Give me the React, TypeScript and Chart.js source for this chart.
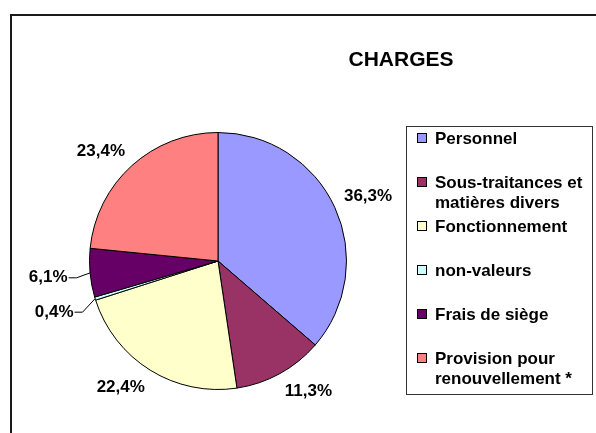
import React, { useEffect, useRef } from "react";
import { Chart, registerables } from "chart.js";

Chart.register(...registerables);

const W = 596;
const H = 433;
const FONT = '"Liberation Sans", Arial, Helvetica, sans-serif';

const TITLE = "CHARGES";
const categories = [
  "Personnel",
  "Sous-traitances et matières divers",
  "Fonctionnement",
  "non-valeurs",
  "Frais de siège",
  "Provision pour renouvellement *",
];
const legendLines = [
  ["Personnel"],
  ["Sous-traitances et", "matières divers"],
  ["Fonctionnement"],
  ["non-valeurs"],
  ["Frais de siège"],
  ["Provision pour", "renouvellement *"],
];
const shares = [36.3, 11.3, 22.4, 0.4, 6.1, 23.4];
const colors = ["#9999FF", "#993366", "#FFFFCC", "#CCFFFF", "#660066", "#FF8080"];

const fmt = (v: number) => v.toFixed(1).replace(".", ",") + "%";

const decor = {
  id: "decor",
  beforeDraw(chart: any) {
    const ctx = chart.ctx as CanvasRenderingContext2D;
    ctx.save();
    ctx.fillStyle = "#ffffff";
    ctx.fillRect(0, 0, W, H);
    // outer frame (extends beyond the window on right and bottom)
    ctx.strokeStyle = "#1a1a1a";
    ctx.lineWidth = 2;
    ctx.beginPath();
    ctx.moveTo(11, H + 10);
    ctx.lineTo(11, 15);
    ctx.lineTo(W + 10, 15);
    ctx.stroke();
    // title
    ctx.fillStyle = "#000";
    ctx.font = `bold 21px ${FONT}`;
    ctx.textAlign = "center";
    ctx.textBaseline = "middle";
    ctx.fillText(TITLE, 401, 60);
    // legend box
    ctx.lineWidth = 1;
    ctx.strokeStyle = "#333";
    ctx.strokeRect(406.5, 126.5, 186, 268);
    ctx.font = `bold 17px ${FONT}`;
    ctx.textAlign = "left";
    legendLines.forEach((lines, i) => {
      const y0 = 138 + 44 * i;
      ctx.fillStyle = colors[i];
      ctx.fillRect(417, y0 - 5, 10, 10);
      ctx.strokeStyle = "#000";
      ctx.strokeRect(417.5, y0 - 4.5, 9, 9);
      ctx.fillStyle = "#000";
      lines.forEach((t, j) => ctx.fillText(t, 435, y0 + 1 + j * 20));
    });
    ctx.restore();
  },
  afterDatasetsDraw(chart: any) {
    const ctx = chart.ctx as CanvasRenderingContext2D;
    const meta = chart.getDatasetMeta(0);
    ctx.save();
    ctx.font = `bold 17px ${FONT}`;
    ctx.textAlign = "center";
    ctx.textBaseline = "middle";
    ctx.fillStyle = "#000";
    ctx.strokeStyle = "#000";
    ctx.lineWidth = 1;
    meta.data.forEach((arc: any, i: number) => {
      const p = arc.getProps(["x", "y", "startAngle", "endAngle", "outerRadius"], true);
      const mid = (p.startAngle + p.endAngle) / 2;
      const dx = Math.cos(mid);
      const dy = Math.sin(mid);
      const v = shares[i];
      const text = fmt(v);
      const w = ctx.measureText(text).width;
      const h = 16;
      const small = v < 7;
      let cx: number;
      let cy: number;
      if (small) {
        const ext = Math.abs(dx) * (w / 2) + Math.abs(dy) * (h / 2);
        const r = p.outerRadius + 22 + ext;
        cx = p.x + dx * r;
        cy = p.y + dy * r;
      } else {
        const r = p.outerRadius + 10;
        cx = p.x + dx * r + Math.sign(dx) * (w / 2);
        cy = p.y + dy * r + Math.sign(dy) * (h / 2);
      }
      ctx.fillText(text, cx, cy + 1);
      if (small) {
        const sx = cx + w / 2 + 1;
        ctx.beginPath();
        ctx.moveTo(sx, cy + 1);
        ctx.lineTo(sx + 8, cy + 1);
        ctx.lineTo(p.x + dx * p.outerRadius, p.y + dy * p.outerRadius);
        ctx.stroke();
      }
    });
    ctx.restore();
  },
};

export default function App() {
  const ref = useRef<HTMLCanvasElement | null>(null);
  useEffect(() => {
    if (!ref.current) return;
    const chart = new Chart(ref.current, {
      type: "pie",
      data: {
        labels: categories,
        datasets: [
          {
            data: shares,
            backgroundColor: colors,
            borderColor: "#000",
            borderWidth: 1,
          },
        ],
      },
      options: {
        responsive: false,
        animation: false,
        events: [],
        layout: { padding: { left: 89, right: 249, top: 132, bottom: 43 } },
        plugins: {
          legend: { display: false },
          title: { display: false },
          tooltip: { enabled: false },
        },
      },
      plugins: [decor],
    });
    return () => chart.destroy();
  }, []);
  return (
    <div style={{ position: "fixed", left: 0, top: 0, width: W, height: H, overflow: "hidden", background: "#fff" }}>
      <canvas ref={ref} width={W} height={H} style={{ display: "block", width: W, height: H }} />
    </div>
  );
}
